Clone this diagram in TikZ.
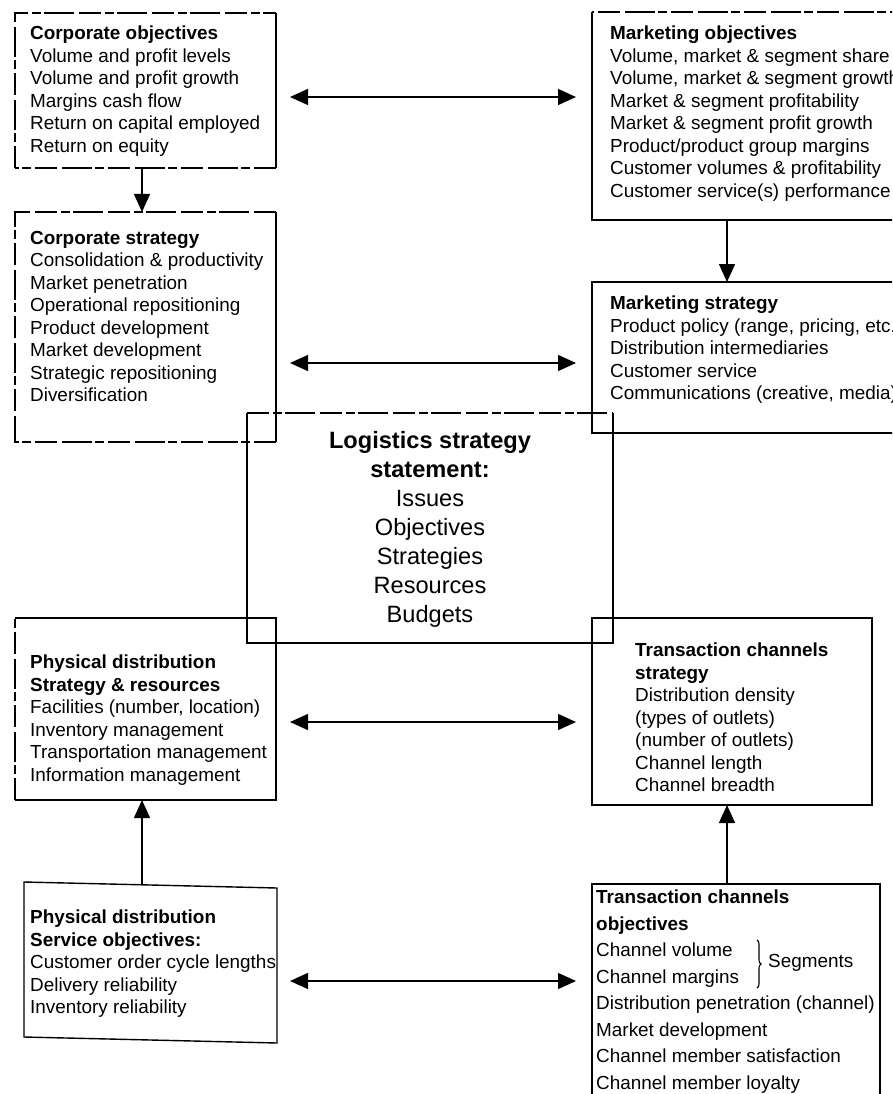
\documentclass[tikz,border=0pt]{standalone}
\usepackage{fontspec}
\setmainfont{Liberation Sans}
\usetikzlibrary{arrows.meta, decorations.pathreplacing}
\begin{document}
\begin{tikzpicture}[x=1pt, y=-1pt,
  area/.style={rectangle, draw=none, inner sep=0pt, outer sep=0pt, anchor=north west},
  edge/.style={line width=1.4pt},
  brk/.style={line width=1.4pt, dash pattern=on 22pt off 4pt on 9pt off 3pt on 30pt off 5pt},
  body/.style={anchor=north west, align=left, inner sep=0pt, font=\fontsize{18.9}{22.5}\selectfont},
  link/.style={line width=1.4pt, -{Triangle[length=18pt, width=16pt]}},
  both/.style={line width=1.4pt, {Triangle[length=18pt, width=16pt]}-{Triangle[length=18pt, width=16pt]}},
]
\useasboundingbox (0,0) rectangle (892,1094);
\clip (0,0) rectangle (892,1094);

% box areas
\node[area, minimum width=261pt, minimum height=155pt] (CO) at (15,13) {};
\node[area, minimum width=320pt, minimum height=208pt] (MO) at (592,12) {};
\node[area, minimum width=261pt, minimum height=230pt] (CS) at (15,212) {};
\node[area, minimum width=320pt, minimum height=151pt] (MS) at (592,282) {};
\node[area, minimum width=366pt, minimum height=230pt] (LG) at (247,413) {};
\node[area, minimum width=261pt, minimum height=182pt] (PD) at (15,618) {};
\node[area, minimum width=280pt, minimum height=187pt] (TC) at (592,618) {};
\node[area, minimum width=253pt, minimum height=156pt] (PS) at (24,884) {};
\node[area, minimum width=288pt, minimum height=230pt] (TO) at (592,884) {};

% outlines
\draw[brk] (CO.south west) -- (CO.north west) -- (CO.north east);
\draw[edge] (CO.north east) -- (CO.south east);
\draw[brk] (CO.south east) -- (CO.south west);

\draw[brk] (MO.north east) -- (MO.north west);
\draw[edge] (MO.north west) -- (MO.south west) -- (MO.south east);

\draw[brk] (CS.south east) -- (CS.south west) -- (CS.north west) -- (CS.north east);
\draw[edge] (CS.north east) -- (CS.south east);

\draw[edge] (MS.north east) -- (MS.north west) -- (MS.south west) -- (MS.south east);

\draw[brk] (LG.north west) -- (LG.north east);
\draw[edge] (LG.north east) -- (LG.south east) -- (LG.south west) -- (LG.north west);

\draw[brk] (PD.south west) -- (PD.north west);
\draw[edge] (PD.north west) -- (PD.north east) -- (PD.south east) -- (PD.south west);

\draw[edge] (TC.north west) rectangle (TC.south east);

\draw[edge] ([yshift=2pt]PS.north west) -- ([yshift=-4pt]PS.north east)
  -- ([yshift=-3pt]PS.south east) -- ([yshift=3pt]PS.south west) -- cycle;

\draw[edge] (TO.south west) -- (TO.north west) -- (TO.north east) -- (TO.south east);

% texts
\node[body] (COt) at (30,26) {\textbf{Corporate objectives}\\Volume and profit levels\\Volume and profit growth\\Margins cash flow\\Return on capital employed\\Return on equity};
\node[body] (MOt) at (610,26) {\textbf{Marketing objectives}\\Volume, market \& segment share\\Volume, market \& segment growth\\Market \& segment profitability\\Market \& segment profit growth\\Product/product group margins\\Customer volumes \& profitability\\Customer service(s) performance};
\node[body] (CSt) at (30,231) {\textbf{Corporate strategy}\\Consolidation \& productivity\\Market penetration\\Operational repositioning\\Product development\\Market development\\Strategic repositioning\\Diversification};
\node[body] (MSt) at (610,296) {\textbf{Marketing strategy}\\Product policy (range, pricing, etc.)\\Distribution intermediaries\\Customer service\\Communications (creative, media)};
\node[anchor=north, align=center, inner sep=0pt, font=\fontsize{23.6}{29}\selectfont] (LGt) at (430,431)
  {\textbf{Logistics strategy}\\\textbf{statement:}\\Issues\\Objectives\\Strategies\\Resources\\Budgets};
\node[body] (PDt) at (30,655) {\textbf{Physical distribution}\\\textbf{Strategy \& resources}\\Facilities (number, location)\\Inventory management\\Transportation management\\Information management};
\node[body] (TCt) at (635,643) {\textbf{Transaction channels}\\\textbf{strategy}\\Distribution density\\(types of outlets)\\(number of outlets)\\Channel length\\Channel breadth};
\node[body] (PSt) at (30,910) {\textbf{Physical distribution}\\\textbf{Service objectives:}\\Customer order cycle lengths\\Delivery reliability\\Inventory reliability};
\node[body, font=\fontsize{18.9}{26.5}\selectfont] (TOt) at (596,890) {\textbf{Transaction channels}\\\textbf{objectives}\\Channel volume\\Channel margins\\Distribution penetration (channel)\\Market development\\Channel member satisfaction\\Channel member loyalty};
\draw[line width=1.1pt, decorate, decoration={brace, amplitude=4pt}] (757,940) -- (757,988);
\node[anchor=west, inner sep=0pt, font=\fontsize{18.9}{22.5}\selectfont] (SEG) at (768,963) {Segments};

% connectors
\coordinate (r1) at (0,97);
\coordinate (r2) at (0,363);
\coordinate (r3) at (0,722);
\coordinate (r4) at (0,981);
\coordinate (v1) at (142,0);
\coordinate (v2) at (727,0);
\draw[both, shorten <=14pt, shorten >=16pt] (CO.east |- r1) -- (MO.west |- r1);
\draw[both, shorten <=14pt, shorten >=16pt] (CS.east |- r2) -- (MS.west |- r2);
\draw[both, shorten <=14pt, shorten >=16pt] (PD.east |- r3) -- (TC.west |- r3);
\draw[both, shorten <=13pt, shorten >=16pt] (PS.east |- r4) -- (TO.west |- r4);
\draw[link] (CO.south -| v1) -- (CS.north -| v1);
\draw[link] (MO.south -| v2) -- (MS.north -| v2);
\draw[link] (PS.north -| v1) -- (PD.south -| v1);
\draw[link] (TO.north -| v2) -- (TC.south -| v2);
\end{tikzpicture}
\end{document}
